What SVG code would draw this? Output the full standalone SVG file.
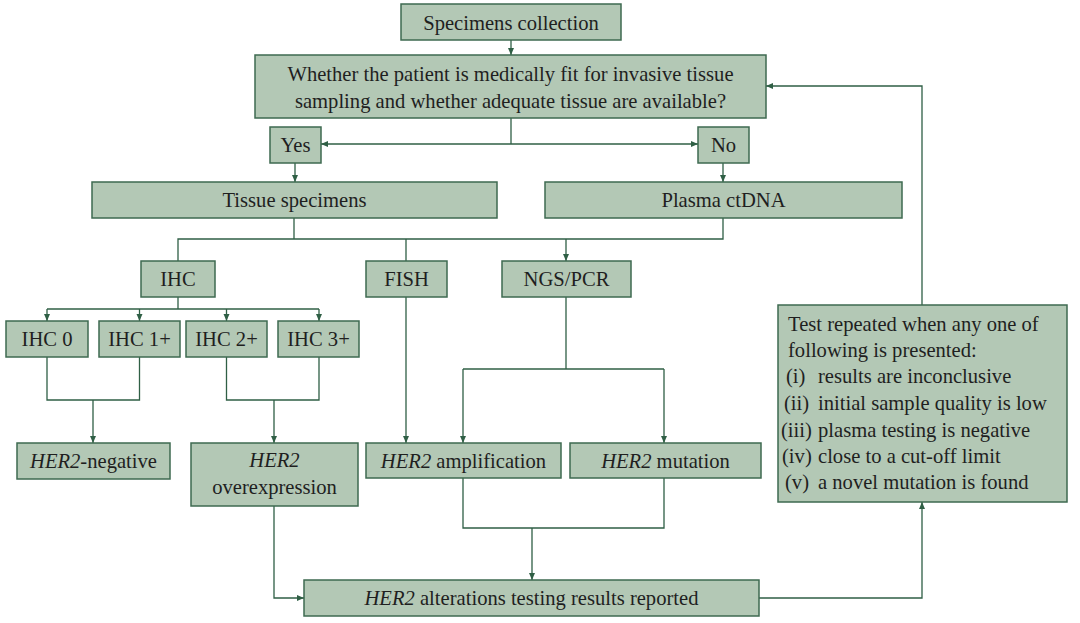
<svg xmlns="http://www.w3.org/2000/svg" width="1080" height="623" viewBox="0 0 1080 623" font-family="'Liberation Serif', 'Times New Roman', Tinos, 'DejaVu Serif', serif">
<style>
.box{fill:#b3c8b5;stroke:#3e6a50;stroke-width:1.5}
.t{font-family:'Liberation Serif','Times New Roman',Tinos,'DejaVu Serif',serif;font-size:20.6px;fill:#1f1f1f;text-anchor:middle}
.l{text-anchor:start}
.i{font-style:italic}
.c{fill:none;stroke:#2f5f45;stroke-width:1.3}
</style>
<defs>
<marker id="ah" markerWidth="7" markerHeight="7" refX="7" refY="3.5" orient="auto-start-reverse" markerUnits="userSpaceOnUse">
<path d="M0,0.5 L7,3.5 L0,6.5 z" fill="#2f5f45"/>
</marker>
</defs>
<rect width="1080" height="623" fill="#ffffff"/>
<g id="connectors">
<path class="c" d="M511,40 V55" marker-end="url(#ah)"/>
<path class="c" d="M511,118 V144"/>
<path class="c" d="M321,144 H698" marker-start="url(#ah)" marker-end="url(#ah)"/>
<path class="c" d="M295,163 V182" marker-end="url(#ah)"/>
<path class="c" d="M723,163 V182" marker-end="url(#ah)"/>
<path class="c" d="M294,218 V239"/>
<path class="c" d="M723,218 V239 H178 V261"/>
<path class="c" d="M406,239 V261"/>
<path class="c" d="M566,239 V261" marker-end="url(#ah)"/>
<path class="c" d="M178,297 V309"/>
<path class="c" d="M47,309 H319"/>
<path class="c" d="M47,309 V321" marker-end="url(#ah)"/>
<path class="c" d="M139.5,309 V321" marker-end="url(#ah)"/>
<path class="c" d="M226.5,309 V321" marker-end="url(#ah)"/>
<path class="c" d="M319,309 V321" marker-end="url(#ah)"/>
<path class="c" d="M47,357 V400 H139.5 V357"/>
<path class="c" d="M93,400 V443" marker-end="url(#ah)"/>
<path class="c" d="M226.5,357 V400 H319 V357"/>
<path class="c" d="M274,400 V443" marker-end="url(#ah)"/>
<path class="c" d="M406,297 V443" marker-end="url(#ah)"/>
<path class="c" d="M566,297 V369"/>
<path class="c" d="M463,369 H664"/>
<path class="c" d="M463,369 V443" marker-end="url(#ah)"/>
<path class="c" d="M664,369 V443" marker-end="url(#ah)"/>
<path class="c" d="M463,478 V528 H664 V478"/>
<path class="c" d="M532,528 V580" marker-end="url(#ah)"/>
<path class="c" d="M274,506 V598 H304" marker-end="url(#ah)"/>
<path class="c" d="M759,598 H922 V502" marker-end="url(#ah)"/>
<path class="c" d="M922,305 V86 H766" marker-end="url(#ah)"/>
</g>
<g id="n-specimens"><rect class="box" x="401" y="4" width="220" height="36"/><text class="t" x="511" y="29.5">Specimens collection</text></g>
<g id="n-question"><rect class="box" x="255" y="55" width="511" height="63"/><text class="t" x="510.5" y="81">Whether the patient is medically fit for invasive tissue</text><text class="t" x="510.5" y="108">sampling and whether adequate tissue are available?</text></g>
<g id="n-yes"><rect class="box" x="270" y="127" width="51" height="36"/><text class="t" x="295.5" y="152">Yes</text></g>
<g id="n-no"><rect class="box" x="698" y="127" width="51" height="36"/><text class="t" x="723.5" y="152">No</text></g>
<g id="n-tissue"><rect class="box" x="92" y="182" width="405" height="36"/><text class="t" x="294.5" y="207">Tissue specimens</text></g>
<g id="n-plasma"><rect class="box" x="545" y="182" width="357" height="36"/><text class="t" x="723.5" y="207">Plasma ctDNA</text></g>
<g id="n-ihc"><rect class="box" x="141" y="261" width="74" height="36"/><text class="t" x="178" y="286">IHC</text></g>
<g id="n-fish"><rect class="box" x="366" y="261" width="81" height="36"/><text class="t" x="406.5" y="286">FISH</text></g>
<g id="n-ngs"><rect class="box" x="502" y="261" width="129" height="36"/><text class="t" x="566.5" y="286">NGS/PCR</text></g>
<g id="n-ihc0"><rect class="box" x="6" y="321" width="82" height="36"/><text class="t" x="47" y="346">IHC 0</text></g>
<g id="n-ihc1"><rect class="box" x="99" y="321" width="81" height="36"/><text class="t" x="139.5" y="346">IHC 1+</text></g>
<g id="n-ihc2"><rect class="box" x="186" y="321" width="81" height="36"/><text class="t" x="226.5" y="346">IHC 2+</text></g>
<g id="n-ihc3"><rect class="box" x="278" y="321" width="81" height="36"/><text class="t" x="318.5" y="346">IHC 3+</text></g>
<g id="n-negative"><rect class="box" x="17" y="443" width="153" height="36"/><text class="t" x="93.5" y="468"><tspan class="i">HER2</tspan>-negative</text></g>
<g id="n-overexpression"><rect class="box" x="191" y="443" width="167" height="63"/><text class="t i" x="274.5" y="467">HER2</text><text class="t" x="274.5" y="494">overexpression</text></g>
<g id="n-amplification"><rect class="box" x="366" y="443" width="195" height="35"/><text class="t" x="463.5" y="467.5"><tspan class="i">HER2</tspan> amplification</text></g>
<g id="n-mutation"><rect class="box" x="570" y="443" width="191" height="35"/><text class="t" x="665.5" y="467.5"><tspan class="i">HER2</tspan> mutation</text></g>
<g id="n-reported"><rect class="box" x="304" y="580" width="455" height="36"/><text class="t" x="531.5" y="605"><tspan class="i">HER2</tspan> alterations testing results reported</text></g>
<g id="n-repeat"><rect class="box" x="778" y="305" width="289" height="197"/>
<text class="t l" x="788" y="331">Test repeated when any one of</text>
<text class="t l" x="788" y="357">following is presented:</text>
<text class="t l" x="786" y="383">(i)</text><text class="t l" x="818" y="383">results are inconclusive</text>
<text class="t l" x="784" y="410">(ii)</text><text class="t l" x="818" y="410">initial sample quality is low</text>
<text class="t l" x="781" y="437">(iii)</text><text class="t l" x="818" y="437">plasma testing is negative</text>
<text class="t l" x="782" y="463">(iv)</text><text class="t l" x="818" y="463">close to a cut-off limit</text>
<text class="t l" x="785" y="489">(v)</text><text class="t l" x="818" y="489">a novel mutation is found</text>
</g>
</svg>
